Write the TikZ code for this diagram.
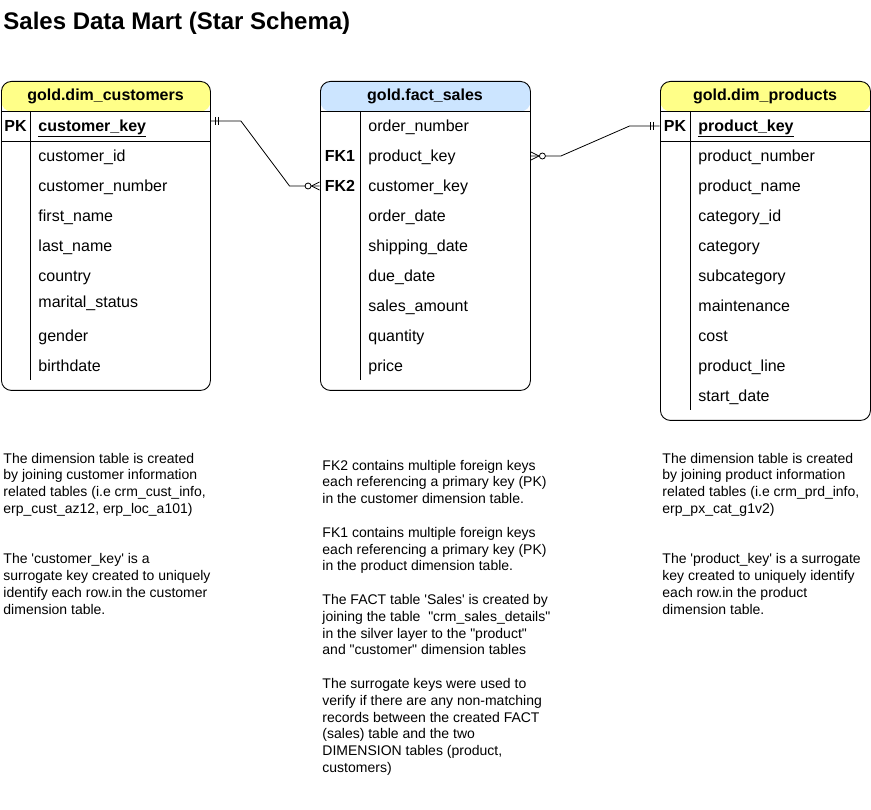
\documentclass[tikz,border=0pt]{standalone}
\usepackage{fontspec}
\setmainfont{Liberation Sans}
\usepackage{tikz}

\definecolor{dimyellow}{HTML}{FFFF88}
\definecolor{factblue}{HTML}{CCE5FF}

\begin{document}
\begin{tikzpicture}[x=1pt, y=-1pt, line width=0.9pt,
    tblbox/.style={draw, rounded corners=10pt, anchor=north west, inner sep=0pt,
        minimum width=210pt,
        path picture={\fill[#1] (path picture bounding box.north west)
            rectangle ([yshift=-30pt]path picture bounding box.north east);}},
    hdr/.style={font=\bfseries\fontsize{16}{19}\selectfont, inner sep=0pt},
    keyname/.style={font=\bfseries\fontsize{16}{19}\selectfont, minimum width=#1,
        minimum height=30pt, inner sep=0pt, text height=12pt, text depth=1pt},
    keyname/.default=30pt,
    field/.style={anchor=west, text width=#1, align=left, inner xsep=8pt, inner ysep=0pt,
        minimum height=30pt, text height=12pt, text depth=1pt,
        font=\fontsize{16}{19}\selectfont},
    field/.default=164pt,
    keyfield/.style={field, font=\bfseries\fontsize{16}{19}\selectfont},
    note/.style={anchor=north west, inner sep=0pt, align=left,
        font=\fontsize{14}{16.8}\selectfont},
    link/.style={line width=0.8pt}]

    %% Background
    \useasboundingbox (0,0) rectangle (871,810);

    % Title
    \node[anchor=base west, inner sep=0pt, font=\bfseries\fontsize{24}{29}\selectfont]
        (title) at (3,30) {Sales Data Mart (Star Schema)};

    %% Customers dimension
    \node[tblbox=dimyellow, minimum width=209pt, minimum height=309pt] (custtbl) at (1,81) {};
    \node[hdr] (custhdr) at (105.5,96.5) {gold.dim\_customers};
    \draw (1,111) -- (210,111);
    \draw (1,141) -- (210,141);
    \draw (30,111) -- (30,380);
    \node[keyname=29pt] (custpk) at (15.5,126) {PK};
    \node[keyfield] (custkey) at (30,126) {\underline{customer\_key}};
    \foreach \y/\f [count=\i] in {156/customer\_id, 186/customer\_number, 216/first\_name,
        246/last\_name, 276/country, 302/marital\_status, 336/gender, 366/birthdate}
    {
    \node[field] (cust-\i) at (30,\y) {\f};
    }

    %% Sales fact
    \node[tblbox=factblue, minimum height=309pt] (facttbl) at (320,81) {};
    \node[hdr] (facthdr) at (425,96.5) {gold.fact\_sales};
    \draw (320,111) -- (530,111);
    \draw (360,111) -- (360,380);
    \node[keyname=40pt] (fkprod) at (340,156) {FK1};
    \node[keyname=40pt] (fkcust) at (340,186) {FK2};
    \foreach \y/\f [count=\i] in {126/order\_number, 156/product\_key, 186/customer\_key,
        216/order\_date, 246/shipping\_date, 276/due\_date, 306/sales\_amount,
        336/quantity, 366/price}
    {
    \node[field=154pt] (fact-\i) at (360,\y) {\f};
    }

    %% Products dimension
    \node[tblbox=dimyellow, minimum height=339pt] (prodtbl) at (660,81) {};
    \node[hdr] (prodhdr) at (765,96.5) {gold.dim\_products};
    \draw (660,111) -- (870,111);
    \draw (660,141) -- (870,141);
    \draw (690,111) -- (690,410);
    \node[keyname] (prodpk) at (675,126) {PK};
    \node[keyfield] (prodkey) at (690,126) {\underline{product\_key}};
    \foreach \y/\f [count=\i] in {156/product\_number, 186/product\_name, 216/category\_id,
        246/category, 276/subcategory, 306/maintenance, 336/cost, 366/product\_line,
        396/start\_date}
    {
    \node[field] (prod-\i) at (690,\y) {\f};
    }

    %% Relations
    % customers (one) to sales (many)
    \draw[link] ([yshift=5pt]custkey.east) -- ++(30,0)
        -- ([xshift=-30pt]fkcust.west) -- (fkcust.west);
    \draw[link] ([xshift=4pt,yshift=5pt]custkey.east) +(0,-4) -- +(0,4);
    \draw[link] ([xshift=7pt,yshift=5pt]custkey.east) +(0,-4) -- +(0,4);
    \draw[link, fill=white] ([xshift=-11.5pt]fkcust.west) circle (3);
    \draw[link] (fkcust.west) +(0,-4) -- +(-8,0) -- +(0,4);

    % products (one) to sales (many)
    \draw[link] (fact-2.east) -- ++(30,0)
        -- ([xshift=-30pt]prodpk.west) -- (prodpk.west);
    \draw[link] (fact-2.east) +(0,-4) -- +(8,0) -- +(0,4);
    \draw[link, fill=white] ([xshift=11.5pt]fact-2.east) circle (3);
    \draw[link] ([xshift=-9pt]prodpk.west) +(0,-4) -- +(0,4);
    \draw[link] ([xshift=-6pt]prodpk.west) +(0,-4) -- +(0,4);

    %% Notes
    \node[note] (custnote) at (3,452.5) {The dimension table is created\\
        by joining customer information\\
        related tables (i.e crm\_cust\_info,\\
        erp\_cust\_az12, erp\_loc\_a101)\\[33.6pt]
        The \textquotesingle customer\_key\textquotesingle\ is a\\
        surrogate key created to uniquely\\
        identify each row.in the customer\\
        dimension table.};

    \node[note] (factnote) at (322,459.5) {FK2 contains multiple foreign keys\\
        each referencing a primary key (PK)\\
        in the customer dimension table.\\[16.8pt]
        FK1 contains multiple foreign keys\\
        each referencing a primary key (PK)\\
        in the product dimension table.\\[16.8pt]
        The FACT table \textquotesingle Sales\textquotesingle\ is created by\\
        joining the table\ \ \textquotedbl crm\_sales\_details\textquotedbl\\
        in the silver layer to the \textquotedbl product\textquotedbl\\
        and \textquotedbl customer\textquotedbl\ dimension tables\\[16.8pt]
        The surrogate keys were used to\\
        verify if there are any non-matching\\
        records between the created FACT\\
        (sales) table and the two\\
        DIMENSION tables (product,\\
        customers)};

    \node[note] (prodnote) at (662,452.5) {The dimension table is created\\
        by joining product information\\
        related tables (i.e crm\_prd\_info,\\
        erp\_px\_cat\_g1v2)\\[33.6pt]
        The \textquotesingle product\_key\textquotesingle\ is a surrogate\\
        key created to uniquely identify\\
        each row.in the product\\
        dimension table.};

\end{tikzpicture}
\end{document}
